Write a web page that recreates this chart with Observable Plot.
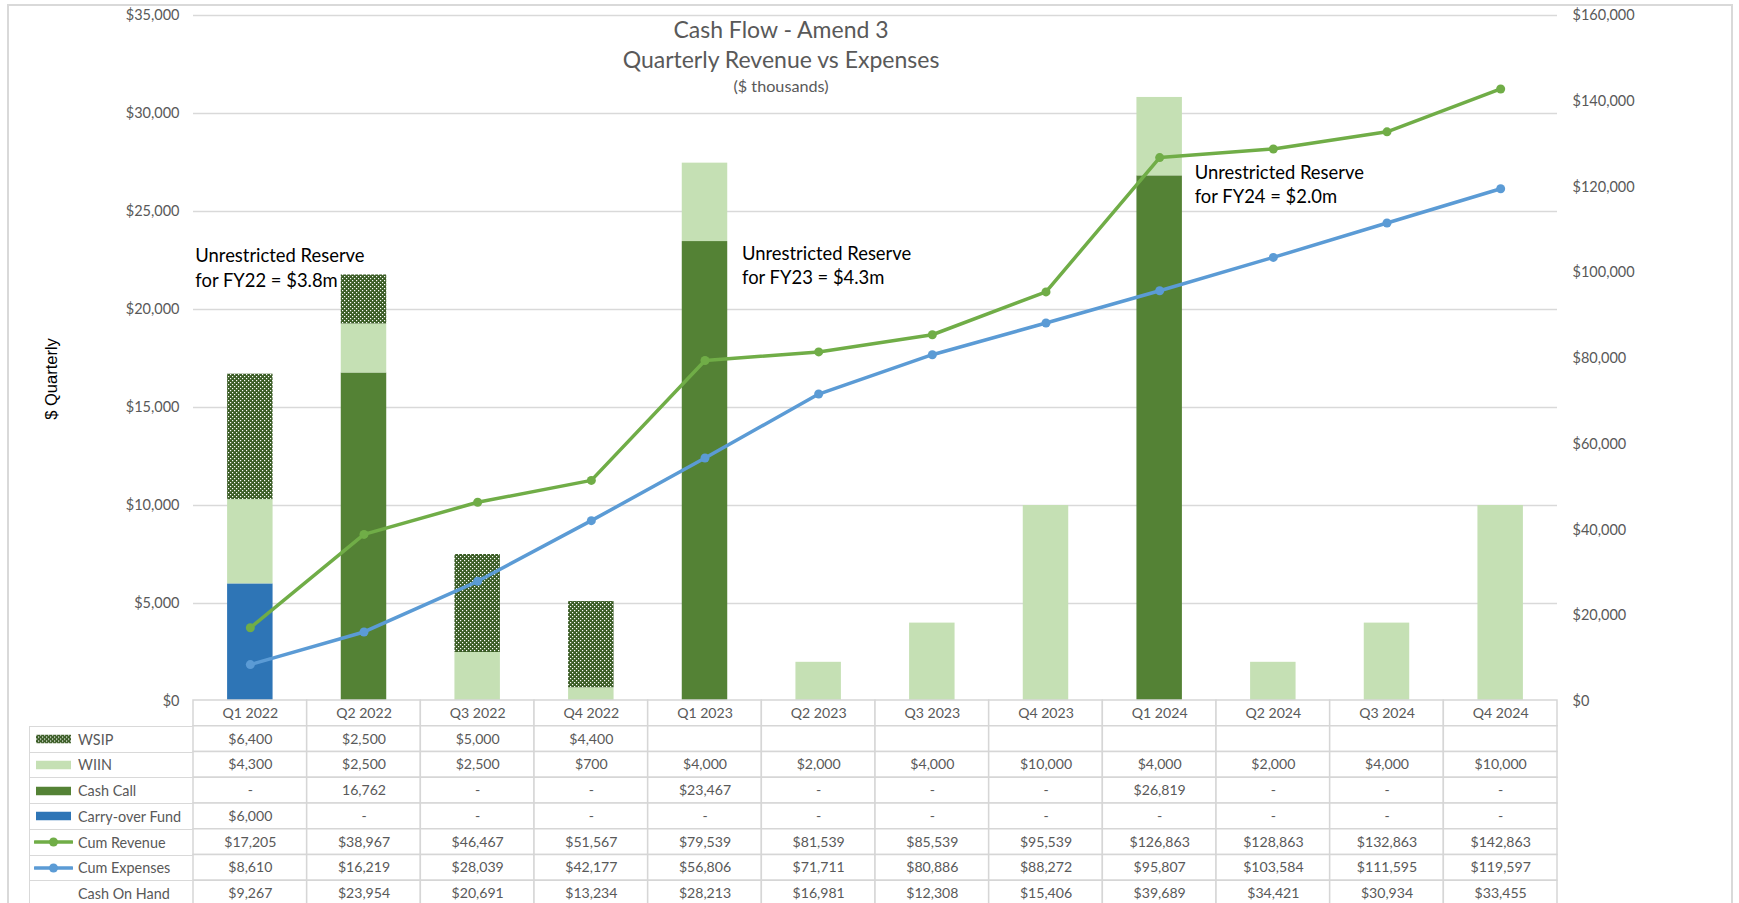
<!DOCTYPE html>
<html>
<head>
<meta charset="utf-8">
<script src="https://cdn.jsdelivr.net/npm/d3@7"></script>
<script src="https://cdn.jsdelivr.net/npm/@observablehq/plot@0.6"></script>
<style>
  html, body { margin: 0; padding: 0; width: 1739px; height: 903px; overflow: hidden; background: #fff; font-family: Lato, sans-serif; }
  #root { position: relative; width: 1739px; height: 903px; overflow: hidden; }
  #frame { position: absolute; left: 7px; top: 4px; width: 1726px; height: 1000px; border: 2px solid #D9D9D9; box-sizing: border-box; }
  .title { position: absolute; left: 0; width: 1562px; text-align: center; color: #595959; white-space: nowrap; }
  #chart, #table { position: absolute; left: 0; }
  #chart { top: 0; }
  #table { top: 700px; }
  #ylabel { position: absolute; left: 51px; top: 379px; transform: translate(-50%, -50%) rotate(-90deg); font-family: "Liberation Sans", Arial, sans-serif; font-size: 16.5px; color: #000; white-space: nowrap; }
  .legrow { position: absolute; left: 29px; width: 164px; box-sizing: border-box; border: 1.5px solid #D9D9D9; border-right: none; }
  .leglabel { position: absolute; left: 48px; top: 0; bottom: 0; display: flex; align-items: center; font-size: 14.4px; color: #595959; white-space: nowrap; }
  .legsw { position: absolute; left: 4px; top: 50%; transform: translateY(-50%); }
</style>
</head>
<body>
<svg width="0" height="0" style="position:absolute">
  <defs>
    <pattern id="wsipPattern" patternUnits="userSpaceOnUse" width="4" height="4">
      <rect width="4" height="4" fill="#3A5C25"></rect>
      <rect x="0" y="0" width="1.2" height="1.2" fill="#ffffff"></rect>
      <rect x="2" y="2" width="1.2" height="1.2" fill="#ffffff"></rect>
    </pattern>
  </defs>
</svg>
<div id="root">
  <div id="frame"></div>
  <div id="chart"></div>
  <div id="table"></div>
  <div id="legend"></div>
  <div class="title" style="top:15px;font-size:23px;line-height:28px;">Cash Flow - Amend 3</div>
  <div class="title" style="top:45px;font-size:23px;line-height:28px;">Quarterly Revenue vs Expenses</div>
  <div class="title" style="top:76px;font-size:16.2px;line-height:20px;">($ thousands)</div>
  <div id="ylabel">$ Quarterly</div>
</div>
<script>
// ---------------- data ----------------
const quarters = ["Q1 2022","Q2 2022","Q3 2022","Q4 2022","Q1 2023","Q2 2023","Q3 2023","Q4 2023","Q1 2024","Q2 2024","Q3 2024","Q4 2024"];
const wsip      = [6400, 2500, 5000, 4400, null, null, null, null, null, null, null, null];
const wiin      = [4300, 2500, 2500, 700, 4000, 2000, 4000, 10000, 4000, 2000, 4000, 10000];
const cashCall  = [0, 16762, 0, 0, 23467, 0, 0, 0, 26819, 0, 0, 0];
const cashCallLabels = ["-", "16,762", "-", "-", "$23,467", "-", "-", "-", "$26,819", "-", "-", "-"];
const carryOver = [6000, 0, 0, 0, 0, 0, 0, 0, 0, 0, 0, 0];
const cumRevenue  = [17205, 38967, 46467, 51567, 79539, 81539, 85539, 95539, 126863, 128863, 132863, 142863];
const cumExpenses = [8610, 16219, 28039, 42177, 56806, 71711, 80886, 88272, 95807, 103584, 111595, 119597];
const cashOnHand  = [9267, 23954, 20691, 13234, 28213, 16981, 12308, 15406, 39689, 34421, 30934, 33455];
const leftTicks  = [0, 5000, 10000, 15000, 20000, 25000, 30000, 35000];
const rightTicks = [0, 20000, 40000, 60000, 80000, 100000, 120000, 140000, 160000];
const seriesOrder = ["Carry-over Fund", "Cash Call", "WIIN", "WSIP"];
const annotations = [
  {q: "Q1 2022", value: 22180, label: "Unrestricted Reserve\nfor FY22 = $3.8m"},
  {q: "Q1 2023", value: 22330, label: "Unrestricted Reserve\nfor FY23 = $4.3m"},
  {q: "Q1 2024", value: 26420, label: "Unrestricted Reserve\nfor FY24 = $2.0m"}
];

// ---------------- derived ----------------
const k = 35000 / 160000; // right-axis to left-axis
const fmt = d3.format(",");
const money = v => "$" + fmt(v);
const series = {"Carry-over Fund": carryOver, "Cash Call": cashCall, "WIIN": wiin, "WSIP": wsip};
const barData = quarters.flatMap((q, i) => seriesOrder.map(s => ({q, series: s, value: series[s][i] || 0}))).filter(d => d.value > 0);
const revData = quarters.map((q, i) => ({q, value: cumRevenue[i]}));
const expData = quarters.map((q, i) => ({q, value: cumExpenses[i]}));
const colors = {
  "Carry-over Fund": "#2E75B6",
  "Cash Call": "#548235",
  "WIIN": "#C5E0B4",
  "WSIP": "url(#wsipPattern)"
};
const revColor = "#70AD47", expColor = "#5B9BD5";
const annotationDx = [-55, 37, 35];

const chart = Plot.plot({
  width: 1739, height: 702,
  marginTop: 15, marginBottom: 1, marginLeft: 193, marginRight: 182,
  style: {fontFamily: "Lato, sans-serif", fontSize: "14.5px", color: "#595959", background: "transparent", overflow: "visible"},
  x: {type: "band", domain: quarters, paddingInner: 0.6, paddingOuter: 0.3, round: false, axis: null},
  y: {domain: [0, 35000], axis: null},
  color: {type: "ordinal", domain: seriesOrder, range: seriesOrder.map(s => colors[s])},
  marks: [
    Plot.gridY(leftTicks, {stroke: "#D9D9D9", strokeOpacity: 1, strokeWidth: 1.5}),
    Plot.axisY(leftTicks, {anchor: "left", tickSize: 0, tickPadding: 14, tickFormat: d => money(d), label: null}),
    Plot.axisY(rightTicks.map(v => v * k), {anchor: "right", tickSize: 0, tickPadding: 15, tickFormat: d => money(Math.round(d / k)), label: null}),
    Plot.barY(barData, Plot.stackY({order: seriesOrder}, {x: "q", y: "value", fill: "series"})),
    Plot.line(revData, {x: "q", y: d => d.value * k, stroke: revColor, strokeWidth: 3.5}),
    Plot.dot(revData, {x: "q", y: d => d.value * k, fill: revColor, r: 4.5}),
    Plot.line(expData, {x: "q", y: d => d.value * k, stroke: expColor, strokeWidth: 3.5}),
    Plot.dot(expData, {x: "q", y: d => d.value * k, fill: expColor, r: 4.5}),
    ...annotations.map((a, i) => Plot.text([a], {
      x: "q", y: "value", text: "label", textAnchor: "start", lineAnchor: "middle",
      dx: annotationDx[i], lineHeight: 1.31, fontSize: 18.4, fill: "#000"
    }))
  ]
});
document.getElementById("chart").appendChild(chart);

// ---------------- data table ----------------
const rowKeys = ["header", "WSIP", "WIIN", "Cash Call", "Carry-over Fund", "Cum Revenue", "Cum Expenses", "Cash On Hand"];
const dash = v => (v ? money(v) : "-");
const tableCells = quarters.flatMap((q, i) => [
  {q, row: "header", label: q},
  {q, row: "WSIP", label: wsip[i] == null ? "" : money(wsip[i])},
  {q, row: "WIIN", label: dash(wiin[i])},
  {q, row: "Cash Call", label: cashCallLabels[i]},
  {q, row: "Carry-over Fund", label: dash(carryOver[i])},
  {q, row: "Cum Revenue", label: money(cumRevenue[i])},
  {q, row: "Cum Expenses", label: money(cumExpenses[i])},
  {q, row: "Cash On Hand", label: money(cashOnHand[i])}
]);
const table = Plot.plot({
  width: 1739, height: 206,
  marginTop: 0, marginBottom: 0, marginLeft: 193, marginRight: 182,
  style: {fontFamily: "Lato, sans-serif", fontSize: "14.1px", color: "#595959", background: "transparent", overflow: "visible"},
  x: {type: "band", domain: quarters, padding: 0, round: false, axis: null},
  y: {type: "band", domain: rowKeys, padding: 0, round: false, axis: null},
  marks: [
    Plot.cell(tableCells, {x: "q", y: "row", fill: "white", stroke: "#D6D6D6", strokeWidth: 1.5}),
    Plot.text(tableCells, {x: "q", y: "row", text: "label", fill: "#595959"})
  ]
});
document.getElementById("table").appendChild(table);

// legend column (row headers) of the data table
const rowH = 206 / rowKeys.length;
const legend = document.getElementById("legend");
const swatch = {
  "WSIP": `<svg width="35" height="9"><rect width="35" height="9" fill="url(#wsipPattern)"/></svg>`,
  "WIIN": `<svg width="35" height="9"><rect width="35" height="9" fill="${colors.WIIN}"/></svg>`,
  "Cash Call": `<svg width="35" height="9"><rect width="35" height="9" fill="${colors["Cash Call"]}"/></svg>`,
  "Carry-over Fund": `<svg width="35" height="9"><rect width="35" height="9" fill="${colors["Carry-over Fund"]}"/></svg>`,
  "Cum Revenue": `<svg width="39" height="12"><line x1="1" x2="38" y1="6" y2="6" stroke="${revColor}" stroke-width="3.5" stroke-linecap="round"/><circle cx="19.5" cy="6" r="4.5" fill="${revColor}"/></svg>`,
  "Cum Expenses": `<svg width="39" height="12"><line x1="1" x2="38" y1="6" y2="6" stroke="${expColor}" stroke-width="3.5" stroke-linecap="round"/><circle cx="19.5" cy="6" r="4.5" fill="${expColor}"/></svg>`,
  "Cash On Hand": ""
};
rowKeys.slice(1).forEach((key, i) => {
  const row = document.createElement("div");
  row.className = "legrow";
  row.style.top = (700 + rowH * (i + 1)) + "px";
  row.style.height = (rowH + 1) + "px";
  const isLine = key === "Cum Revenue" || key === "Cum Expenses";
  row.innerHTML = (swatch[key] ? `<div class="legsw" style="left:${isLine ? 4 : 6}px;line-height:0">${swatch[key]}</div>` : "") +
    `<div class="leglabel">${key}</div>`;
  legend.appendChild(row);
});
</script>
</body>
</html>
